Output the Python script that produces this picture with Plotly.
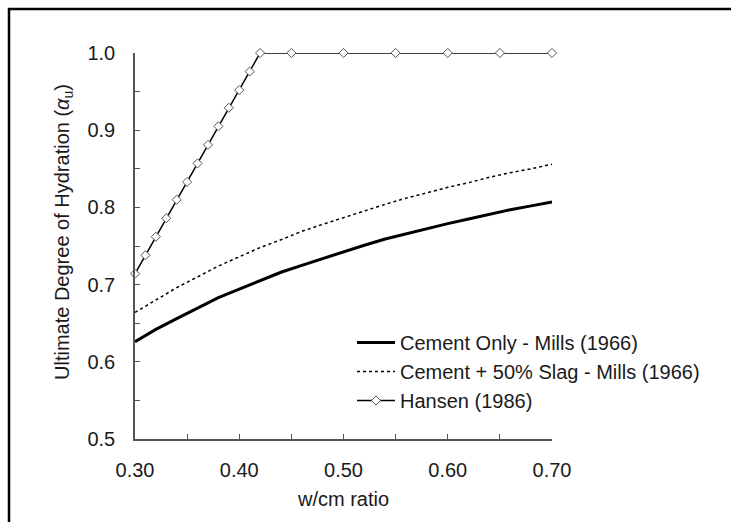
import plotly.graph_objects as go

# data
wcm_mills = [0.30, 0.32, 0.34, 0.36, 0.38, 0.40, 0.42, 0.44, 0.46, 0.48, 0.50,
             0.52, 0.54, 0.56, 0.58, 0.60, 0.62, 0.64, 0.66, 0.68, 0.70]
cement_only = [0.626, 0.642, 0.656, 0.670, 0.683, 0.694, 0.705, 0.716, 0.725, 0.734, 0.743,
               0.751, 0.759, 0.766, 0.773, 0.779, 0.785, 0.791, 0.797, 0.802, 0.807]
cement_slag = [0.664, 0.680, 0.696, 0.710, 0.724, 0.736, 0.748, 0.758, 0.769, 0.778, 0.787,
               0.796, 0.804, 0.812, 0.819, 0.826, 0.832, 0.839, 0.845, 0.850, 0.856]
wcm_hansen = [0.30, 0.31, 0.32, 0.33, 0.34, 0.35, 0.36, 0.37, 0.38, 0.39, 0.40, 0.41, 0.42,
              0.45, 0.50, 0.55, 0.60, 0.65, 0.70]
hansen = [0.714, 0.738, 0.762, 0.786, 0.810, 0.833, 0.857, 0.881, 0.905, 0.929, 0.952, 0.976, 1.000,
          1.000, 1.000, 1.000, 1.000, 1.000, 1.000]
x_ticks = [0.30, 0.40, 0.50, 0.60, 0.70]
y_ticks = [0.5, 0.6, 0.7, 0.8, 0.9, 1.0]

FONT = "Liberation Sans, Arial, sans-serif"
TXT = "#1a1a1a"
AX = "#555555"

fig = go.Figure()
fig.add_trace(go.Scatter(x=wcm_mills, y=cement_only, mode="lines",
                         name="Cement Only - Mills (1966)",
                         line=dict(color="black", width=3), cliponaxis=False))
fig.add_trace(go.Scatter(x=wcm_mills, y=cement_slag, mode="lines",
                         name="Cement + 50% Slag - Mills (1966)",
                         line=dict(color="black", width=1.5, dash="dot"), cliponaxis=False))
fig.add_trace(go.Scatter(x=wcm_hansen, y=hansen, mode="lines+markers",
                         name="Hansen (1986)",
                         line=dict(color="black", width=1.5),
                         marker=dict(symbol="diamond", size=7, color="white",
                                     line=dict(color="#555", width=1)),
                         cliponaxis=False))

L, R, T, B = 135, 552, 53, 439
W, H = 731, 522
pw, ph = R - L, B - T

fig.add_shape(type="rect", xref="paper", yref="paper",
              x0=(9 - L) / pw, x1=(W + 20 - L) / pw,
              y0=(B - (H + 20)) / ph, y1=(B - 9) / ph,
              line=dict(color="black", width=2.5), layer="below")

fig.add_annotation(text="Ultimate Degree of Hydration (<i>α</i><sub>u</sub>)",
                   xref="paper", yref="paper", x=(63 - L) / pw, y=(B - 232) / ph,
                   xanchor="center", yanchor="middle", textangle=-90, showarrow=False,
                   font=dict(size=20, color=TXT))

fig.update_layout(
    width=W, height=H,
    margin=dict(l=L, r=W - R, t=T, b=H - B),
    paper_bgcolor="white", plot_bgcolor="white",
    font=dict(family=FONT, size=20, color=TXT),
    showlegend=True,
    legend=dict(x=(352 - L) / pw, y=(B - 323) / ph, xanchor="left", yanchor="top",
                bgcolor="rgba(0,0,0,0)", font=dict(size=20, color=TXT),
                tracegroupgap=0, itemwidth=38),
    xaxis=dict(range=[0.30, 0.70], tickvals=x_ticks, tickformat=".2f",
               showgrid=False, zeroline=False, showline=True, linecolor=AX, linewidth=1.5,
               ticks="inside", ticklen=5, tickcolor=AX, ticklabelstandoff=12,
               minor=dict(dtick=0.05, tick0=0.30, ticks="inside", ticklen=5, tickcolor=AX),
               title=dict(text="w/cm ratio", font=dict(size=20), standoff=12),
               tickfont=dict(size=20)),
    yaxis=dict(range=[0.5, 1.0], tickvals=y_ticks, tickformat=".1f",
               showgrid=False, zeroline=False, showline=True, linecolor=AX, linewidth=1.5,
               ticks="inside", ticklen=5, tickcolor=AX, ticklabelstandoff=14,
               minor=dict(dtick=0.05, tick0=0.5, ticks="inside", ticklen=5, tickcolor=AX),
               tickfont=dict(size=20)),
)

fig.write_html("out.html")
